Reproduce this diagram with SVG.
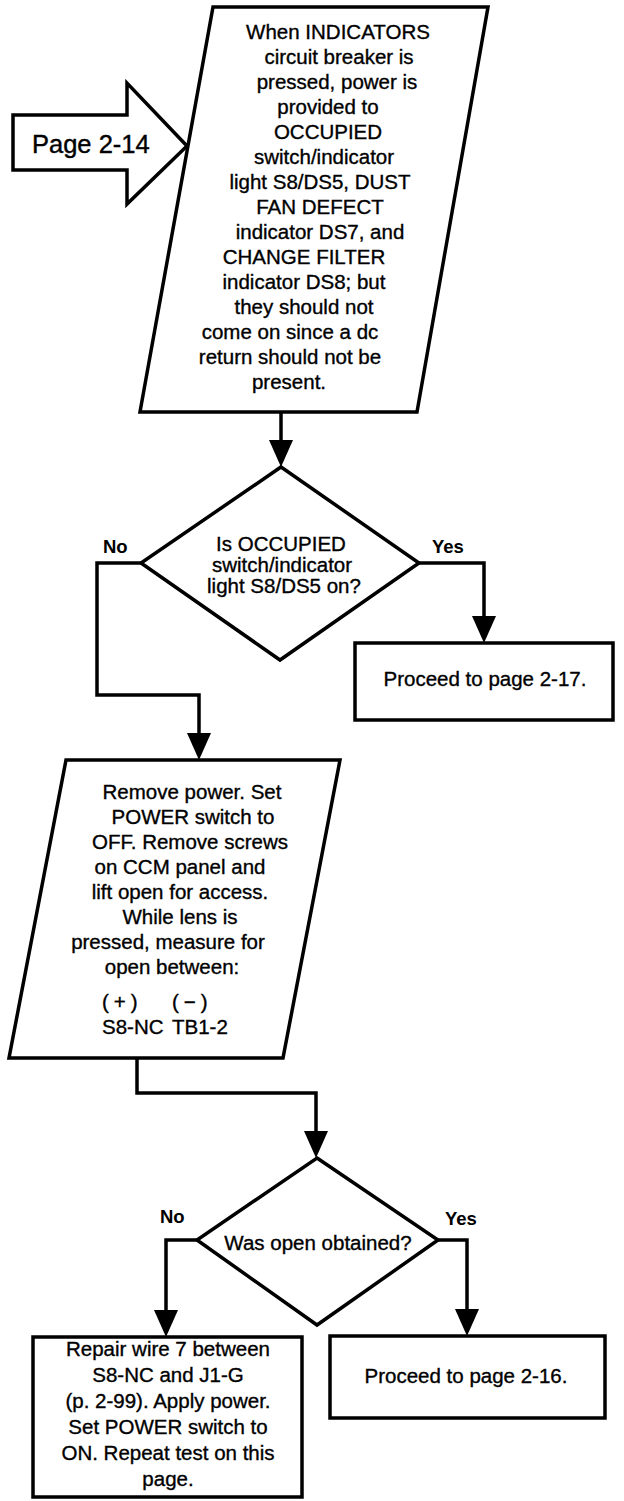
<svg xmlns="http://www.w3.org/2000/svg" width="624" height="1501" viewBox="0 0 624 1501">
<defs>
<style>
.sh{fill:#fff;stroke:#000;stroke-width:3.5;stroke-linejoin:miter}
.t{font-family:'Liberation Sans',Arial,sans-serif;font-size:20.5px;fill:#000;stroke:#000;stroke-width:0.35;text-anchor:middle}
.tl{font-family:'Liberation Sans',Arial,sans-serif;font-size:20.5px;fill:#000;stroke:#000;stroke-width:0.35}
.sp{letter-spacing:5px}
.lb{font-family:'Liberation Sans',Arial,sans-serif;font-size:18.5px;font-weight:bold;fill:#000}
.c{fill:none;stroke:#000;stroke-width:3.5;stroke-linejoin:miter}
</style>
<marker id="ah" viewBox="0 0 27 24" refX="0" refY="12" markerWidth="27" markerHeight="24" markerUnits="userSpaceOnUse" orient="auto">
<path d="M0,0 L27,12 L0,24 z" fill="#000"/>
</marker>
</defs>
<rect width="624" height="1501" fill="#fff"/>

<g id="connectors">
<path class="c" d="M281,412 V440" marker-end="url(#ah)"/>
<path class="c" d="M419,563 H484 V616" marker-end="url(#ah)"/>
<path class="c" d="M141,563 H97 V695 H199 V733" marker-end="url(#ah)"/>
<path class="c" d="M137,1058 V1093 H316 V1131" marker-end="url(#ah)"/>
<path class="c" d="M197,1240 H166 V1310" marker-end="url(#ah)"/>
<path class="c" d="M438,1240 H467 V1309" marker-end="url(#ah)"/>
</g>

<g id="page-2-14">
<polygon class="sh" points="13,115 127,115 127,83 187,146 127,204 127,170 13,170"/>
<text x="32" y="153" font-family="'Liberation Sans',Arial,sans-serif" font-size="25.5" stroke="#000" stroke-width="0.4">Page 2-14</text>
</g>

<g id="step-indicators">
<polygon class="sh" points="213,7 488,7 417,412 140,412"/>
<text class="t" x="338" y="39">When INDICATORS</text>
<text class="t" x="339" y="64">circuit breaker is</text>
<text class="t" x="337" y="89">pressed, power is</text>
<text class="t" x="328" y="114">provided to</text>
<text class="t" x="328" y="139">OCCUPIED</text>
<text class="t" x="324" y="164">switch/indicator</text>
<text class="t" x="320" y="189">light S8/DS5, DUST</text>
<text class="t" x="320" y="214">FAN DEFECT</text>
<text class="t" x="320" y="239">indicator DS7, and</text>
<text class="t" x="304" y="264">CHANGE FILTER</text>
<text class="t" x="304" y="289">indicator DS8; but</text>
<text class="t" x="304" y="314">they should not</text>
<text class="t" x="290" y="339">come on since a dc</text>
<text class="t" x="290" y="364">return should not be</text>
<text class="t" x="289" y="389">present.</text>
</g>

<g id="decision-occupied">
<polygon class="sh" points="281,467 419,563 280,660 141,563"/>
<text class="t" x="281" y="551">Is OCCUPIED</text>
<text class="t" x="282" y="572">switch/indicator</text>
<text class="t" x="284" y="593">light S8/DS5 on?</text>
<text class="lb" x="103" y="553">No</text>
<text class="lb" x="432" y="553">Yes</text>
</g>

<g id="proceed-2-17">
<rect class="sh" x="355" y="643" width="258" height="77"/>
<text class="t" x="485" y="686">Proceed to page 2-17.</text>
</g>

<g id="step-measure">
<polygon class="sh" points="66,760 340,760 283,1058 9,1058"/>
<text class="t" x="192" y="799">Remove power. Set</text>
<text class="t" x="193" y="824">POWER switch to</text>
<text class="t" x="190" y="849">OFF. Remove screws</text>
<text class="t" x="180" y="874">on CCM panel and</text>
<text class="t" x="180" y="899">lift open for access.</text>
<text class="t" x="180" y="924">While lens is</text>
<text class="t" x="168" y="949">pressed, measure for</text>
<text class="t" x="172" y="974">open between:</text>
<text class="tl sp" x="102" y="1009">(+)</text>
<text class="tl sp" x="172" y="1009">(−)</text>
<text class="tl" x="102" y="1034">S8-NC</text>
<text class="tl" x="172" y="1034">TB1-2</text>
</g>

<g id="decision-open">
<polygon class="sh" points="317,1158 438,1240 317,1325 197,1240"/>
<text class="t" x="318" y="1250">Was open obtained?</text>
<text class="lb" x="160" y="1223">No</text>
<text class="lb" x="445" y="1225">Yes</text>
</g>

<g id="repair-wire">
<rect class="sh" x="33" y="1337" width="269" height="160"/>
<text class="t" x="168" y="1356">Repair wire 7 between</text>
<text class="t" x="168" y="1382">S8-NC and J1-G</text>
<text class="t" x="168" y="1408">(p. 2-99). Apply power.</text>
<text class="t" x="168" y="1434">Set POWER switch to</text>
<text class="t" x="168" y="1460">ON. Repeat test on this</text>
<text class="t" x="168" y="1486">page.</text>
</g>

<g id="proceed-2-16">
<rect class="sh" x="330" y="1336" width="275" height="82"/>
<text class="t" x="466" y="1383">Proceed to page 2-16.</text>
</g>
</svg>
